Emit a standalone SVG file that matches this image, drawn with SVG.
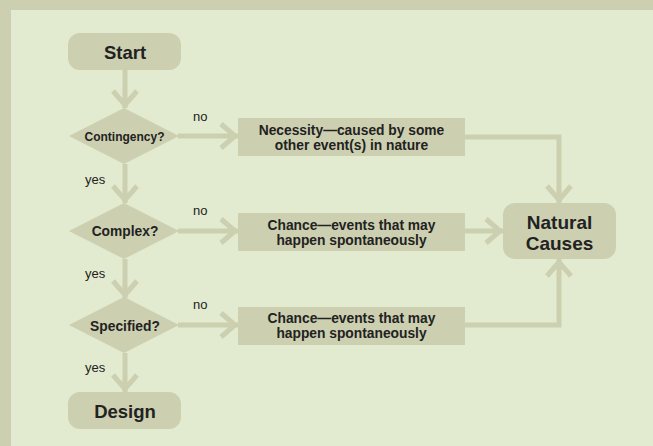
<svg xmlns="http://www.w3.org/2000/svg" width="653" height="446" viewBox="0 0 653 446">
<defs>
<marker id="chev" markerUnits="userSpaceOnUse" markerWidth="40" markerHeight="40" viewBox="-20 -20 40 40" refX="0" refY="0" orient="auto">
<path d="M-17,-12 L-3,0 L-17,12" fill="none" stroke="#cccfb0" stroke-width="5"/>
</marker>
<style>
.n{fill:#cccfb0}
.c{fill:none;stroke:#cccfb0;stroke-width:5}
.t{font-family:"Liberation Sans",Arial,sans-serif;font-weight:bold;fill:#222;text-anchor:middle}
.l{font-family:"Liberation Sans",Arial,sans-serif;fill:#222;font-size:13px}
</style>
</defs>
<rect x="0" y="0" width="653" height="446" fill="#cccfb0"/>
<rect x="11" y="10" width="642" height="436" fill="#e2ebcf"/>
<g id="connectors">
<path class="c" d="M125,70 V108" marker-end="url(#chev)"/>
<path class="c" d="M125,164 V203" marker-end="url(#chev)"/>
<path class="c" d="M125,259 V298" marker-end="url(#chev)"/>
<path class="c" d="M125,353 V392" marker-end="url(#chev)"/>
<path class="c" d="M178,136 H238" marker-end="url(#chev)"/>
<path class="c" d="M178,231 H238" marker-end="url(#chev)"/>
<path class="c" d="M178,325 H238" marker-end="url(#chev)"/>
<path class="c" d="M465,137 H559 V203" marker-end="url(#chev)"/>
<path class="c" d="M465,231 H503" marker-end="url(#chev)"/>
<path class="c" d="M465,325 H559 V259" marker-end="url(#chev)"/>
<text class="l" x="193" y="121">no</text>
<text class="l" x="193" y="215">no</text>
<text class="l" x="193" y="309">no</text>
<text class="l" x="85" y="184">yes</text>
<text class="l" x="85" y="278">yes</text>
<text class="l" x="85" y="372">yes</text>
</g>
<g id="start">
<rect class="n" x="68" y="33" width="113" height="37" rx="12"/>
<text class="t" x="125" y="59" font-size="18.5">Start</text>
</g>
<g id="contingency">
<polygon class="n" points="69,136 124,108 179,136 124,164"/>
<text class="t" x="124.5" y="141" font-size="12">Contingency?</text>
</g>
<g id="complex">
<polygon class="n" points="69,231 124,203 179,231 124,259"/>
<text class="t" x="125" y="236" font-size="13.8">Complex?</text>
</g>
<g id="specified">
<polygon class="n" points="69,325 124,297 179,325 124,353"/>
<text class="t" x="125" y="330.5" font-size="13.8">Specified?</text>
</g>
<g id="design">
<rect class="n" x="68" y="392" width="113" height="37" rx="12"/>
<text class="t" x="125" y="417.5" font-size="18.5">Design</text>
</g>
<g id="necessity">
<rect class="n" x="238" y="118" width="227" height="38"/>
<text class="t" font-size="13.8" x="351.5" y="134.5">Necessity—caused by some</text>
<text class="t" font-size="13.8" x="351.5" y="149.5">other event(s) in nature</text>
</g>
<g id="chance1">
<rect class="n" x="238" y="213" width="227" height="38"/>
<text class="t" font-size="13.8" x="351.5" y="229.5">Chance—events that may</text>
<text class="t" font-size="13.8" x="351.5" y="244.5">happen spontaneously</text>
</g>
<g id="chance2">
<rect class="n" x="238" y="307" width="227" height="38"/>
<text class="t" font-size="13.8" x="351.5" y="323">Chance—events that may</text>
<text class="t" font-size="13.8" x="351.5" y="338">happen spontaneously</text>
</g>
<g id="natural">
<rect class="n" x="503" y="203" width="113" height="56" rx="12"/>
<text class="t" font-size="19" x="559.5" y="228.5">Natural</text>
<text class="t" font-size="19" x="559.5" y="249.5">Causes</text>
</g>
</svg>
